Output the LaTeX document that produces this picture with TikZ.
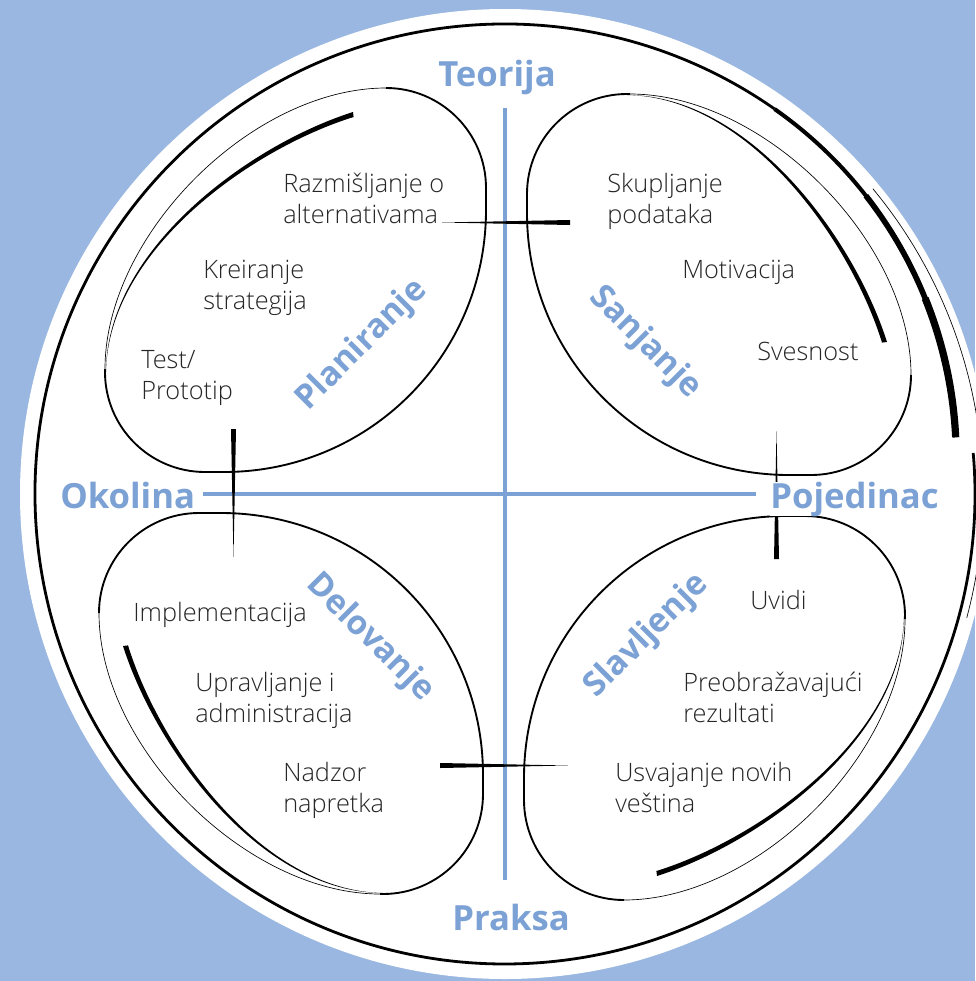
\documentclass[tikz,border=0pt]{standalone}
\usepackage{fontspec}
\setmainfont{Open Sans}
\newfontfamily\lightfont{Open Sans Light}

\definecolor{bgblue}{RGB}{153,183,224}
\definecolor{axblue}{RGB}{123,161,213}

\tikzset{
  item/.style={font=\lightfont\fontsize{19}{23}\selectfont, text=black!85, align=left, anchor=north west, inner sep=0pt},
  axislabel/.style={font=\bfseries\fontsize{26}{30}\selectfont, text=axblue, inner sep=0pt},
  phase/.style={font=\bfseries\fontsize{25}{30}\selectfont, text=axblue, inner sep=0pt},
  axis/.style={axblue, line width=3.4pt},
  blob/.style={line width=1.4pt},
  sketch/.style={line width=0.5pt},
}

\begin{document}
\begin{tikzpicture}[x=0.75pt, y=-0.75pt]
    \useasboundingbox (0,0) rectangle (975,981);
    \fill[bgblue] (0,0) rectangle (975,981);
    \fill[white] (505,494) circle[radius=485];

    \draw[line width=2.1pt] (973.2,453.0) arc[start angle=-5, end angle=305, radius=470];
    \foreach \s/\w in {305/3, 322/4.2, 338/5.4}
      \draw[line width=\w pt] ({530.2+426*cos(\s)},{458+426*sin(\s)}) arc[start angle=\s, end angle=357.2, radius=426];
    \draw[sketch] (872.8,188.7) arc[start angle=320.3, end angle=375, radius=478];

    \coordinate (ax-n) at (505,108);
    \coordinate (ax-s) at (505,880);
    \coordinate (ax-w) at (203,494);
    \coordinate (ax-e) at (756,494);
    \draw[axis] (ax-n) -- (ax-s);
    \draw[axis] (ax-w) -- (ax-e);

    \foreach \ang [count=\i] in {0,-90,-180,-270}{
      \begin{scope}[rotate around={\ang:(505,494)}]
        \draw[blob] (386,88) arc[start angle=270, end angle=360, radius=100]
          -- (486,210) .. controls (486,355) and (369,472) .. (224,472)
          -- (205,472) arc[start angle=90, end angle=180, radius=100] -- (105,369);
        \draw[sketch] (105,369) .. controls (105,235) and (252,88) .. (386,88);
        \fill (353,112) .. controls (249,145) and (106,250) .. (106,372)
          .. controls (108,250) and (251.3,148.8) .. (353.6,117) -- cycle;
        \coordinate (tk\i-a) at (442,222.5);
        \coordinate (tk\i-b) at (570,220);
        \coordinate (tk\i-c) at (570,225);
        \fill (tk\i-a) -- (tk\i-b) -- (tk\i-c) -- cycle;
      \end{scope}
    }

    \node[item] (raz) at (283,173) {Razmišljanje o\\alternativama};
    \node[item] (kre) at (203,260) {Kreiranje\\strategija};
    \node[item] (tes) at (141,350) {Test/\\Prototip};
    \node[item] (sku) at (607,173) {Skupljanje\\podataka};
    \node[item] (mot) at (682,260) {Motivacija};
    \node[item] (sve) at (757,342) {Svesnost};
    \node[item] (imp) at (133,602) {Implementacija};
    \node[item] (upr) at (195,672) {Upravljanje i\\administracija};
    \node[item] (nad) at (283,762) {Nadzor\\napretka};
    \node[item] (uvi) at (750,590) {Uvidi};
    \node[item] (pre) at (683,672) {Preobražavajući\\rezultati};
    \node[item] (usv) at (615,762) {Usvajanje novih\\veština};

    \node[phase, rotate=45] (pla) at (362,345) {Planiranje};
    \node[phase, rotate=-45] (san) at (645,343) {Sanjanje};
    \node[phase, rotate=-45] (del) at (370,638) {Delovanje};
    \node[phase, rotate=45] (sla) at (647,636) {Slavljenje};

    \node[axislabel, anchor=base] (teo) at (497,87) {Teorija};
    \node[axislabel, anchor=base] (pra) at (511,930) {Praksa};
    \node[axislabel, anchor=base west] (oko) at (60,508) {Okolina};
    \node[axislabel, anchor=base west, fill=white] (poj) at (770,508) {Pojedinac};
\end{tikzpicture}
\end{document}
